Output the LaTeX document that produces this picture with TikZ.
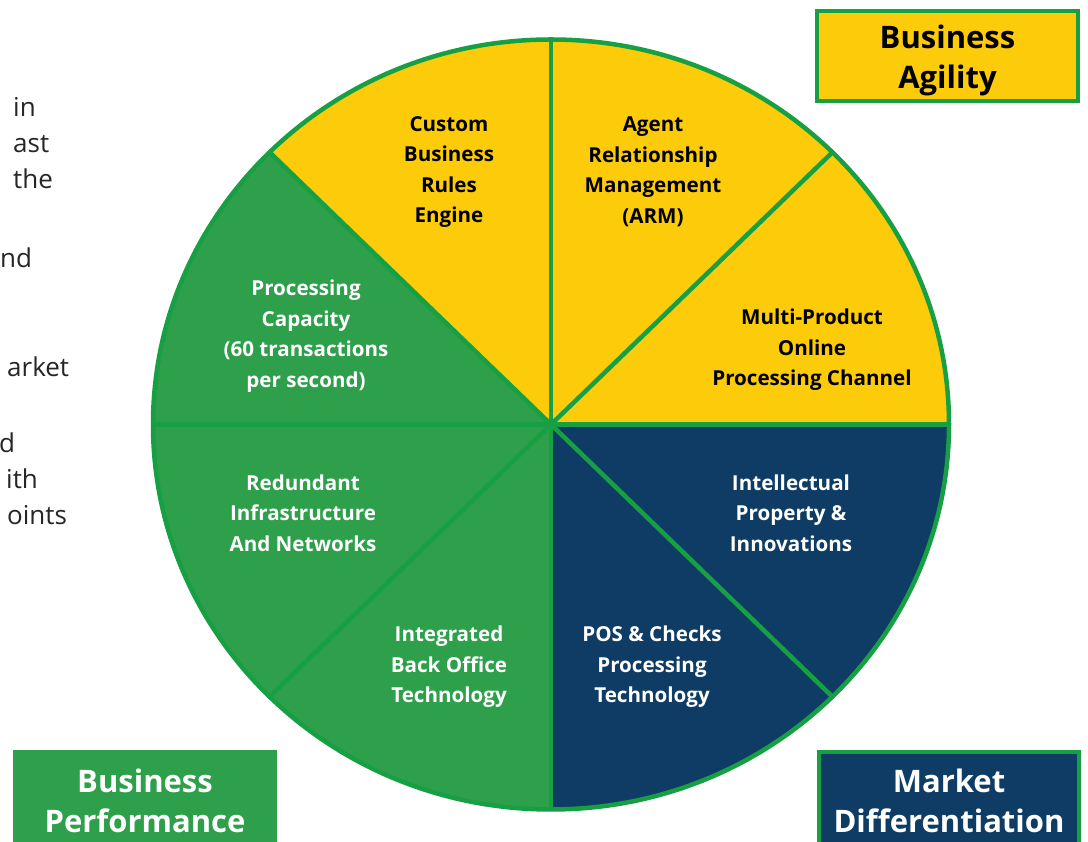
\documentclass[tikz,border=0pt]{standalone}
\usepackage{fontspec}
\setmainfont{Open Sans}
\definecolor{yel}{HTML}{FCCB0A}
\definecolor{grn}{HTML}{2E9F4A}
\definecolor{gline}{HTML}{17A043}
\definecolor{navy}{HTML}{0E3C64}
\definecolor{txt}{HTML}{262626}
\tikzset{
  sectxt/.style={align=center, font=\fontsize{20.6}{30.5}\selectfont\bfseries, inner sep=0pt},
  darktxt/.style={sectxt, text=black},
  lighttxt/.style={sectxt, text=white},
  divline/.style={draw=gline, line width=4.5pt},
  boxtxt/.style={align=center, font=\fontsize{31}{40}\selectfont\bfseries, inner sep=0pt},
  sidetxt/.style={anchor=base west, inner sep=0pt, text=txt, font=\fontsize{26}{36}\selectfont}
}
\begin{document}
\begin{tikzpicture}[x=1pt,y=1pt]
\useasboundingbox (0,0) rectangle (1088,842);
\fill[white] (0,0) rectangle (1088,842);
\coordinate (O) at (551,417.5);
% sectors
\fill[yel]  (O) -- ++(0:398pt and 385pt)   arc[start angle=0,  end angle=135,x radius=398pt,y radius=385pt] -- cycle;
\fill[grn]  (O) -- ++(135:398pt and 385pt) arc[start angle=135,end angle=270,x radius=398pt,y radius=385pt] -- cycle;
\fill[navy] (O) -- ++(270:398pt and 385pt) arc[start angle=270,end angle=360,x radius=398pt,y radius=385pt] -- cycle;
% dividers
\foreach \a in {0,45,...,315} { \draw[divline] (O) -- ++(\a:398pt and 385pt); }
\draw[divline] (O) ellipse[x radius=398pt, y radius=385pt];
% sector labels
\node[darktxt] (cbre) at (449,670) {Custom\\Business\\Rules\\Engine};
\node[darktxt] (arm) at (653,670) {Agent\\Relationship\\Management\\(ARM)};
\node[darktxt] (mpo) at (812,492) {Multi-Product\\Online\\Processing Channel};
\node[lighttxt] (pc) at (306,506) {Processing\\Capacity\\(60 transactions\\per second)};
\node[lighttxt] (rin) at (303,329) {Redundant\\Infrastructure\\And Networks};
\node[lighttxt] (ibo) at (449,175) {Integrated\\Back Office\\Technology};
\node[lighttxt] (pos) at (652,175) {POS \& Checks\\Processing\\Technology};
\node[lighttxt] (ipi) at (791,329) {Intellectual\\Property \&\\Innovations};
% corner boxes
\fill[yel] (817,741) rectangle (1078,831);
\draw[draw=gline, line width=4pt] (817,741) rectangle (1078,831);
\node[boxtxt, text=black] (ba) at (947.5,782) {Business\\Agility};
\fill[grn] (13,-10) rectangle (277,92);
\node[boxtxt, text=white] (bp) at (145,41) {Business\\Performance};
\fill[navy] (819,-10) rectangle (1079,90);
\draw[draw=gline, line width=4pt] (819,-10) rectangle (1079,90);
\node[boxtxt, text=white] (md) at (949,41) {Market\\Differentiation};
% cut-off side text
\node[sidetxt] (s1) at (13,725) {in};
\node[sidetxt] (s2) at (13,689) {ast};
\node[sidetxt] (s3) at (13,653) {the};
\node[sidetxt] (s4) at (0,574) {nd};
\node[sidetxt] (s5) at (7,465) {arket};
\node[sidetxt] (s6) at (-1,389) {d};
\node[sidetxt] (s7) at (6,353) {ith};
\node[sidetxt] (s8) at (7,317) {oints};
\end{tikzpicture}
\end{document}
